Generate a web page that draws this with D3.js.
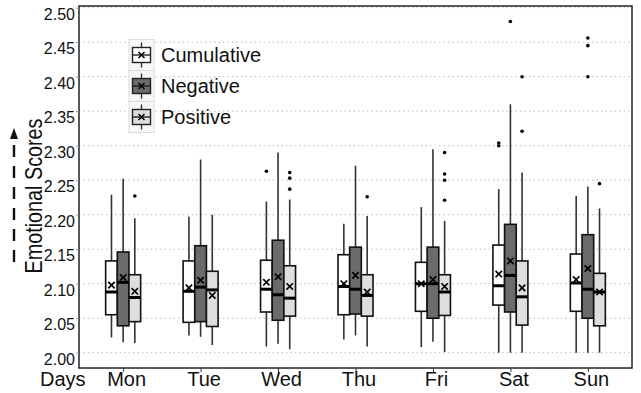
<!DOCTYPE html>
<html>
<head>
<meta charset="utf-8">
<script src="https://cdn.jsdelivr.net/npm/d3@7"></script>
<style>
  body { margin: 0; background: #fff; }
  svg text { font-family: "Liberation Sans", Arial, sans-serif; fill: #111; }
</style>
</head>
<body>
<svg id="chart"></svg>
<script>
// days on the x axis
var days = ["Mon", "Tue", "Wed", "Thu", "Fri", "Sat", "Sun"];
var seriesNames = ["Cumulative", "Negative", "Positive"];
var yTicks = [2.00, 2.05, 2.10, 2.15, 2.20, 2.25, 2.30, 2.35, 2.40, 2.45, 2.50];

// per day: [lower whisker, q1, median, q3, upper whisker, mean]
var cumulativeStats = [
  [2.022, 2.055, 2.088, 2.133, 2.229, 2.098],
  [2.025, 2.044, 2.089, 2.133, 2.197, 2.094],
  [2.009, 2.059, 2.092, 2.134, 2.219, 2.102],
  [2.019, 2.055, 2.096, 2.142, 2.187, 2.100],
  [2.008, 2.060, 2.100, 2.131, 2.211, 2.100],
  [2.000, 2.069, 2.097, 2.156, 2.237, 2.114],
  [2.000, 2.060, 2.101, 2.143, 2.227, 2.106]
];
var negativeStats = [
  [2.015, 2.039, 2.102, 2.146, 2.252, 2.109],
  [2.023, 2.045, 2.095, 2.155, 2.280, 2.105],
  [2.013, 2.047, 2.084, 2.163, 2.290, 2.110],
  [2.025, 2.056, 2.092, 2.153, 2.271, 2.112],
  [2.016, 2.050, 2.100, 2.153, 2.295, 2.106],
  [2.000, 2.059, 2.112, 2.186, 2.360, 2.133],
  [2.000, 2.050, 2.092, 2.171, 2.241, 2.122]
];
var positiveStats = [
  [2.014, 2.045, 2.080, 2.113, 2.195, 2.089],
  [2.011, 2.038, 2.091, 2.118, 2.200, 2.083],
  [2.005, 2.053, 2.079, 2.126, 2.222, 2.096],
  [2.009, 2.053, 2.083, 2.113, 2.198, 2.088],
  [2.001, 2.054, 2.088, 2.113, 2.191, 2.096],
  [2.000, 2.040, 2.081, 2.133, 2.261, 2.094],
  [2.000, 2.039, 2.088, 2.115, 2.209, 2.088]
];

// outliers per day
var cumulativeOutliers = [[], [], [2.263], [], [], [2.300, 2.304], []];
var negativeOutliers = [[], [], [], [], [], [2.480], [2.400, 2.445, 2.456]];
var positiveOutliers = [[2.227], [], [2.237, 2.253, 2.261], [2.226],
  [2.221, 2.250, 2.259, 2.290], [2.321, 2.400], [2.245]];

var fills = ["#ffffff", "#6b6b6b", "#dedede"];

var allStats = [cumulativeStats, negativeStats, positiveStats];
var allOutliers = [cumulativeOutliers, negativeOutliers, positiveOutliers];

var width = 641, height = 393;
var plot = { left: 79, right: 632, top: 6, bottom: 368 };

var svg = d3.select("#chart")
  .attr("width", width)
  .attr("height", height);

var x = d3.scalePoint()
  .domain(days)
  .range([plot.left, plot.right])
  .padding(0.57);

var y = d3.scaleLinear()
  .domain([2.0, 2.5])
  .range([352.7, 7.7]);

var sub = d3.scaleBand()
  .domain(seriesNames)
  .range([-17.5, 17.5]);

// dotted grid
svg.append("g")
  .selectAll("line")
  .data(yTicks)
  .enter()
  .append("line")
  .attr("x1", plot.left)
  .attr("x2", plot.right)
  .attr("y1", function (d) { return y(d); })
  .attr("y2", function (d) { return y(d); })
  .attr("stroke", "#bcbcbc")
  .attr("stroke-width", 1)
  .attr("stroke-dasharray", "1.5,3");

// boxes
seriesNames.forEach(function (name, s) {
  var g = svg.append("g").attr("class", "series");
  var bw = sub.bandwidth();
  allStats[s].forEach(function (st, i) {
    var cx = x(days[i]) + sub(name) + bw / 2;
    var b = g.append("g");
    b.append("line")
      .attr("x1", cx).attr("x2", cx)
      .attr("y1", y(st[0])).attr("y2", y(st[4]))
      .attr("stroke", "#333").attr("stroke-width", 1.6);
    b.append("rect")
      .attr("x", cx - bw / 2)
      .attr("width", bw)
      .attr("y", y(st[3]))
      .attr("height", y(st[1]) - y(st[3]))
      .attr("fill", fills[s])
      .attr("stroke", "#111")
      .attr("stroke-width", 1.6);
    b.append("line")
      .attr("x1", cx - bw / 2).attr("x2", cx + bw / 2)
      .attr("y1", y(st[2])).attr("y2", y(st[2]))
      .attr("stroke", "#000").attr("stroke-width", 3);
    var my = y(st[5]), k = 3.2;
    b.append("path")
      .attr("d", "M" + (cx - k) + "," + (my - k) + "L" + (cx + k) + "," + (my + k) +
        "M" + (cx - k) + "," + (my + k) + "L" + (cx + k) + "," + (my - k))
      .attr("stroke", "#000").attr("stroke-width", 1.7);
    b.selectAll("circle")
      .data(allOutliers[s][i])
      .enter()
      .append("circle")
      .attr("cx", cx)
      .attr("cy", function (d) { return y(d); })
      .attr("r", 1.8)
      .attr("fill", "#000");
  });
});

// frame
svg.append("rect")
  .attr("x", plot.left).attr("y", plot.top)
  .attr("width", plot.right - plot.left)
  .attr("height", plot.bottom - plot.top)
  .attr("fill", "none")
  .attr("stroke", "#222")
  .attr("stroke-width", 1.5);

// y axis
var yAxis = svg.append("g")
  .attr("transform", "translate(" + plot.left + ",0)")
  .call(d3.axisLeft(y).tickValues(yTicks).tickSize(3).tickFormat(d3.format(".2f")));
yAxis.select(".domain").remove();
yAxis.selectAll(".tick line").attr("stroke", "#999");
yAxis.selectAll(".tick text")
  .attr("x", -4)
  .attr("y", 6.5)
  .style("font-size", "16px")
  .style("font-family", "Liberation Sans, Arial, sans-serif")
  .attr("fill", "#111");

// x axis
var xAxis = svg.append("g")
  .attr("transform", "translate(0," + plot.bottom + ")")
  .call(d3.axisBottom(x).tickSize(4));
xAxis.select(".domain").remove();
xAxis.selectAll(".tick line").attr("stroke", "#333");
xAxis.selectAll(".tick text")
  .attr("x", 3)
  .attr("y", 18)
  .attr("dy", 0)
  .style("font-size", "20px")
  .style("font-family", "Liberation Sans, Arial, sans-serif")
  .attr("fill", "#111");

svg.append("text")
  .attr("x", 40)
  .attr("y", 386)
  .style("font-size", "20px")
  .text("Days");

// y title with arrow
svg.append("text")
  .attr("transform", "translate(42,196) rotate(-90)")
  .attr("text-anchor", "middle")
  .attr("textLength", 155)
  .attr("lengthAdjust", "spacingAndGlyphs")
  .style("font-size", "24px")
  .text("Emotional Scores");

svg.append("line")
  .attr("x1", 14).attr("x2", 14)
  .attr("y1", 262).attr("y2", 137)
  .attr("stroke", "#111")
  .attr("stroke-width", 2.4)
  .attr("stroke-dasharray", "12,9");
svg.append("path")
  .attr("d", "M14,128L18,139L10,139Z")
  .attr("fill", "#111");

// legend
var legend = svg.append("g").attr("class", "legend");
var keyH = 31, keyTop = 39.5;
seriesNames.forEach(function (name, s) {
  var ky = keyTop + s * keyH;
  var cy = ky + keyH / 2;
  var kx = 141.5;
  legend.append("rect")
    .attr("x", 129).attr("y", ky)
    .attr("width", 25).attr("height", keyH)
    .attr("fill", "#f7f7f7")
    .attr("stroke", "#dcdcdc").attr("stroke-width", 1);
  legend.append("line")
    .attr("x1", kx).attr("x2", kx)
    .attr("y1", ky + 3).attr("y2", ky + keyH - 3)
    .attr("stroke", "#333").attr("stroke-width", 1.4);
  legend.append("rect")
    .attr("x", 132.5).attr("y", cy - 7.5)
    .attr("width", 18).attr("height", 15)
    .attr("fill", fills[s])
    .attr("stroke", "#222").attr("stroke-width", 1.4);
  legend.append("line")
    .attr("x1", 132.5).attr("x2", 150.5)
    .attr("y1", cy).attr("y2", cy)
    .attr("stroke", "#222").attr("stroke-width", 1.4);
  legend.append("path")
    .attr("d", "M" + (kx - 3) + "," + (cy - 3) + "L" + (kx + 3) + "," + (cy + 3) +
      "M" + (kx - 3) + "," + (cy + 3) + "L" + (kx + 3) + "," + (cy - 3))
    .attr("stroke", "#000").attr("stroke-width", 1.5);
  legend.append("text")
    .attr("x", 161)
    .attr("y", cy + 7)
    .style("font-size", "20px")
    .text(name);
});
</script>
</body>
</html>
